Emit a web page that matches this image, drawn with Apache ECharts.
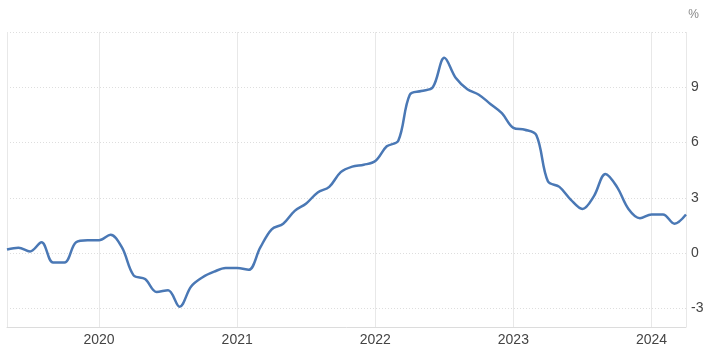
<!DOCTYPE html>
<html>
<head>
<meta charset="utf-8">
<script src="https://cdn.jsdelivr.net/npm/echarts@6/dist/echarts.min.js"></script>
<style>
  html, body { margin: 0; padding: 0; background: #fff; }
  #chart { width: 711px; height: 350px; }
</style>
</head>
<body>
<div id="chart"></div>
<script>
// monthly, May 2019 .. Apr 2024
const months = [];
for (let y = 2019; y <= 2024; y++) {
  for (let m = 1; m <= 12; m++) {
    if (y === 2019 && m < 5) continue;
    if (y === 2024 && m > 4) continue;
    months.push(y + '-' + String(m).padStart(2, '0'));
  }
}

const rate = [
  0.2, 0.3, 0.1, 0.6, -0.5, -0.5, 0.6, 0.7,
  0.7, 1.0, 0.3, -1.2, -1.4, -2.1, -2.0, -2.9, -1.8, -1.3, -1.0, -0.8,
  -0.8, -0.9, 0.3, 1.3, 1.6, 2.3, 2.7, 3.3, 3.6, 4.4, 4.7, 4.8,
  5.0, 5.8, 6.1, 8.6, 8.8, 9.0, 10.6, 9.5, 8.9, 8.6, 8.1, 7.6,
  6.8, 6.7, 6.4, 3.9, 3.6, 2.9, 2.4, 3.1, 4.3, 3.6, 2.4, 1.9,
  2.1, 2.1, 1.6, 2.1
];

const yTicks = [-3, 0, 3, 6, 9];
const yGrid = [-3, 0, 3, 6, 9, 12];

var chartDom = document.getElementById('chart');
var myChart = echarts.init(chartDom);

const isYearStart = (i, v) => v.endsWith('-01');

const option = {
  animation: false,
  textStyle: { fontFamily: 'Arial, "Liberation Sans", sans-serif' },
  title: {
    text: '%',
    right: 7,
    top: 4,
    textStyle: { color: '#888', fontSize: 12, fontWeight: 'normal' }
  },
  grid: { left: 7, right: 25, top: 32, bottom: 23 },
  xAxis: {
    type: 'category',
    boundaryGap: false,
    data: months,
    axisLine: { onZero: false, lineStyle: { color: '#dcdcdc' } },
    axisTick: { show: false },
    axisLabel: {
      interval: isYearStart,
      formatter: v => v.slice(0, 4),
      color: '#444',
      fontSize: 14,
      margin: 6
    },
    splitLine: {
      show: true,
      interval: (i, v) => i === 0 || i === months.length - 1 || v.endsWith('-01'),
      lineStyle: { color: '#e8e8e8', width: 1 }
    }
  },
  yAxis: {
    type: 'value',
    position: 'right',
    min: -4,
    max: 12,
    axisLine: { show: false },
    axisTick: { show: false, customValues: yGrid },
    axisLabel: {
      customValues: yTicks,
      color: '#444',
      fontSize: 14,
      margin: 5
    },
    splitLine: {
      show: true,
      lineStyle: { color: '#dedede', type: [1, 2], width: 1 }
    }
  },
  series: [{
    type: 'line',
    data: rate,
    smooth: 0.35,
    showSymbol: false,
    lineStyle: { color: '#4a78b5', width: 2.5 },
    itemStyle: { color: '#4a78b5' }
  }]
};
option && myChart.setOption(option);
</script>
</body>
</html>
